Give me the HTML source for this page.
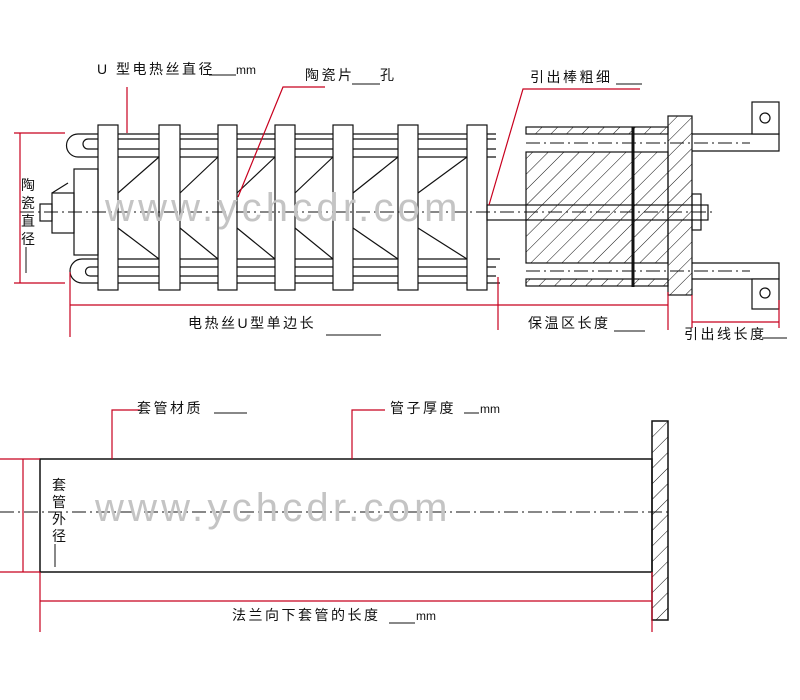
<!DOCTYPE html>
<html><head><meta charset="utf-8"><style>
html,body{margin:0;padding:0;background:#fff;}
svg{display:block;}
text{font-family:"Liberation Sans","Noto Sans CJK SC",sans-serif;font-size:14px;fill:#111;letter-spacing:2.5px;}
.mm{font-size:12px;letter-spacing:0;}
.wm{font-size:40px;fill:#c4c4c4;letter-spacing:4.2px;}
</style></head><body>
<svg width="800" height="700" viewBox="0 0 800 700" xmlns="http://www.w3.org/2000/svg">
<defs>
<pattern id="h" patternUnits="userSpaceOnUse" width="11" height="11" patternTransform="rotate(45)">
<line x1="0" y1="0" x2="0" y2="11" stroke="#111" stroke-width="1"/>
</pattern>
</defs>
<g fill="none" stroke="#111" stroke-width="1.2">
<line x1="78" y1="134" x2="496" y2="134"/>
<line x1="88" y1="139" x2="496" y2="139"/>
<line x1="88" y1="149" x2="496" y2="149"/>
<line x1="78" y1="157" x2="496" y2="157"/>
<path d="M78 134 A11.5 11.5 0 0 0 78 157"/>
<path d="M88 139 A5 5 0 0 0 88 149"/>
<line x1="82" y1="259" x2="500" y2="259"/>
<line x1="90" y1="267" x2="496" y2="267"/>
<line x1="90" y1="276" x2="496" y2="276"/>
<line x1="82" y1="283" x2="500" y2="283"/>
<path d="M82 259 A12 12 0 0 0 82 283"/>
<path d="M90 267 A4.5 4.5 0 0 0 90 276"/>
<line x1="118" y1="193" x2="159" y2="157"/><line x1="118" y1="228" x2="159" y2="259"/>
<line x1="180" y1="193" x2="218" y2="157"/><line x1="180" y1="228" x2="218" y2="259"/>
<line x1="237" y1="193" x2="275" y2="157"/><line x1="237" y1="228" x2="275" y2="259"/>
<line x1="295" y1="193" x2="333" y2="157"/><line x1="295" y1="228" x2="333" y2="259"/>
<line x1="353" y1="193" x2="398" y2="157"/><line x1="353" y1="228" x2="398" y2="259"/>
<line x1="418" y1="193" x2="467" y2="157"/><line x1="418" y1="228" x2="467" y2="259"/>
<g fill="#fff">
<rect x="98" y="125" width="20" height="165"/>
<rect x="159" y="125" width="21" height="165"/>
<rect x="218" y="125" width="19" height="165"/>
<rect x="275" y="125" width="20" height="165"/>
<rect x="333" y="125" width="20" height="165"/>
<rect x="398" y="125" width="20" height="165"/>
<rect x="467" y="125" width="20" height="165"/>
</g>
<rect x="74" y="169" width="24" height="86"/>
<rect x="52" y="193" width="22" height="40"/>
<line x1="52" y1="193" x2="68" y2="183"/>
<rect x="40" y="204" width="12" height="17"/>
<rect x="487" y="205" width="221" height="15"/>
<rect x="526" y="127" width="142" height="7" fill="url(#h)"/>
<rect x="526" y="152" width="142" height="111" fill="url(#h)"/>
<rect x="526" y="279" width="142" height="7" fill="url(#h)"/>
<line x1="633" y1="127" x2="633" y2="287" stroke-width="3"/>
<rect x="668" y="116" width="24" height="179" fill="url(#h)"/>
<rect x="692" y="194" width="9" height="36"/>
<polyline points="692,134 779,134 779,151 692,151"/>
<rect x="752" y="102" width="27" height="32" fill="#fff"/>
<circle cx="765" cy="118" r="5"/>
<polyline points="692,263 779,263 779,279 692,279"/>
<rect x="752" y="279" width="27" height="30" fill="#fff"/>
<circle cx="765" cy="293" r="5"/>
</g>
<g stroke="#111" stroke-width="1" stroke-dasharray="14,4,2,4" fill="none">
<line x1="20" y1="212" x2="712" y2="212"/>
<line x1="526" y1="143" x2="750" y2="143"/>
<line x1="526" y1="271" x2="750" y2="271"/>
<line x1="0" y1="512" x2="668" y2="512"/>
</g>
<g stroke="#c8001e" stroke-width="1.2" fill="none">
<line x1="14" y1="133" x2="65" y2="133"/>
<line x1="14" y1="283" x2="65" y2="283"/>
<line x1="20" y1="133" x2="20" y2="283"/>
<line x1="127" y1="87" x2="127" y2="133"/>
<polyline points="325,87 283,87 238,197"/>
<polyline points="640,89 523,89 489,205"/>
<line x1="70" y1="305" x2="668" y2="305"/>
<line x1="70" y1="272" x2="70" y2="337"/>
<line x1="498" y1="277" x2="498" y2="330"/>
<line x1="668" y1="292" x2="668" y2="330"/>
<line x1="692" y1="295" x2="692" y2="328"/>
<line x1="779" y1="300" x2="779" y2="328"/>
<line x1="692" y1="322" x2="779" y2="322"/>
</g>
<g fill="none" stroke="#111" stroke-width="1.5">
<rect x="40" y="459" width="612" height="113"/>
<rect x="652" y="421" width="16" height="199" fill="url(#h)"/>
</g>
<g stroke="#c8001e" stroke-width="1.2" fill="none">
<line x1="0" y1="459" x2="40" y2="459"/>
<line x1="0" y1="572" x2="40" y2="572"/>
<line x1="23" y1="459" x2="23" y2="572"/>
<line x1="40" y1="572" x2="40" y2="632"/>
<line x1="652" y1="572" x2="652" y2="632"/>
<line x1="40" y1="601" x2="652" y2="601"/>
<polyline points="140,410 112,410 112,459"/>
<polyline points="385,410 352,410 352,459"/>
</g>
<g stroke="#111" stroke-width="1">
<line x1="209" y1="75" x2="236" y2="75"/>
<line x1="352" y1="84" x2="380" y2="84"/>
<line x1="616" y1="84" x2="642" y2="84"/>
<line x1="326" y1="335" x2="381" y2="335"/>
<line x1="614" y1="331" x2="645" y2="331"/>
<line x1="762" y1="338" x2="787" y2="338"/>
<line x1="26" y1="247" x2="26" y2="273"/>
<line x1="214" y1="413" x2="247" y2="413"/>
<line x1="464" y1="413" x2="479" y2="413"/>
<line x1="389" y1="623" x2="415" y2="623"/>
<line x1="55" y1="544" x2="55" y2="567"/>
</g>
<text class="wm" x="105" y="221">www.ychcdr.com</text>
<text class="wm" x="95" y="521">www.ychcdr.com</text>
<text x="97" y="74">U 型电热丝直径</text><text class="mm" x="236" y="74">mm</text>
<text x="305" y="80">陶瓷片</text><text x="380" y="80">孔</text>
<text x="530" y="82">引出棒粗细</text>
<text x="188" y="328">电热丝U型单边长</text>
<text x="528" y="328">保温区长度</text>
<text x="684" y="339">引出线长度</text>
<text x="21" y="190">陶</text><text x="21" y="208">瓷</text><text x="21" y="226">直</text><text x="21" y="244">径</text>
<text x="137" y="413">套管材质</text>
<text x="390" y="413">管子厚度</text><text class="mm" x="480" y="413">mm</text>
<text x="232" y="620">法兰向下套管的长度</text><text class="mm" x="416" y="620">mm</text>
<text x="52" y="490">套</text><text x="52" y="507">管</text><text x="52" y="524">外</text><text x="52" y="541">径</text>
</svg>
</body></html>
